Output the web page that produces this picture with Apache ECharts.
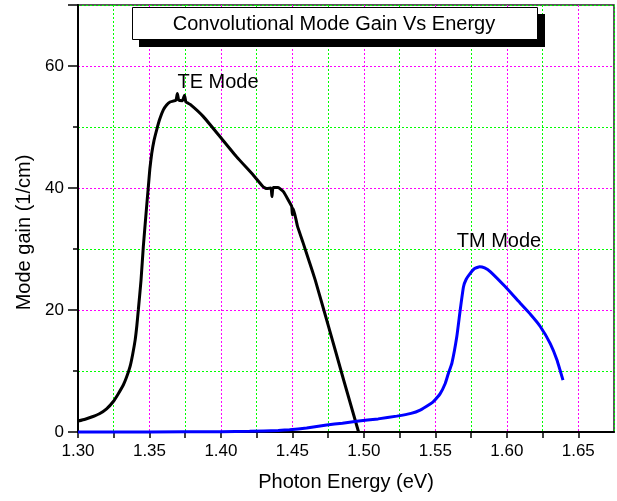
<!DOCTYPE html>
<html>
<head>
<meta charset="utf-8">
<script src="https://cdn.jsdelivr.net/npm/echarts@6/dist/echarts.min.js"></script>
<style>html,body{margin:0;padding:0;background:#fff}#c{width:617px;height:501px}</style>
</head>
<body>
<div id="c"></div>
<script>
var xTicks = ['1.30','1.35','1.40','1.45','1.50','1.55','1.60','1.65'];
var yTicks = ['0','20','40','60'];

var teEnergy = [1.300,1.305,1.310,1.315,1.320,1.3247,1.328,1.3317,1.334,1.3364,1.3383,1.340,1.3412,1.3422,1.3441,1.3457,1.3476,1.3492,1.3503,1.3516,1.3532,1.355,1.3572,1.3597,1.362,1.3644,1.3685,1.3695,1.3705,1.373,1.3745,1.3755,1.3785,1.3877,1.3994,1.411,1.4227,1.4295,1.432,1.435,1.4357,1.4365,1.440,1.4437,1.4472,1.4495,1.4500,1.4507,1.4535,1.4575,1.462,1.466,1.472,1.480,1.486,1.4963];
var teGain   = [1.8,2.1,2.5,3.0,3.8,5.0,6.2,7.7,9.0,10.7,12.8,15.1,17.5,20.0,24.9,30.4,35.8,40.2,43.2,45.7,47.8,49.5,51.3,52.8,53.6,54.1,54.4,55.5,54.4,54.3,55.2,54.1,53.7,51.7,48.4,45.1,42.1,40.2,39.9,40.0,38.6,40.1,40.1,39.4,38.0,37.0,35.6,36.6,33.8,31.0,27.8,24.9,20.0,13.4,8.4,0];

var tmEnergy = [1.30,1.35,1.40,1.42,1.44,1.448,1.46,1.474,1.485,1.495,1.51,1.523,1.533,1.5394,1.5464,1.5487,1.5534,1.557,1.559,1.5616,1.565,1.5674,1.5697,1.5715,1.5744,1.5775,1.581,1.5845,1.5884,1.599,1.6094,1.6165,1.6234,1.6304,1.6351,1.6393];
var tmGain   = [0.0,0.02,0.06,0.12,0.25,0.35,0.65,1.15,1.45,1.75,2.15,2.6,3.05,3.6,4.6,5.0,6.3,8.0,9.5,11.3,15.6,20.0,23.8,25.0,26.0,26.8,27.1,26.9,26.3,23.8,21.1,19.3,17.3,14.5,11.8,8.5];

var titleText = 'Convolutional Mode Gain Vs Energy';
var teLabel = 'TE Mode';
var tmLabel = 'TM Mode';

function pairs(xs, ys){ return xs.map(function(x,i){ return [x, ys[i]]; }); }

var FONT = '"Liberation Sans", Arial, sans-serif';
var gridColors = ['#ff00ff', '#00ff00'];
var chart = echarts.init(document.getElementById('c'), null, {renderer:'canvas'});
chart.setOption({
  animation: false,
  backgroundColor: '#fff',
  grid: {left: 78, right: 3, top: 5, bottom: 69, show: true, borderColor: '#222', borderWidth: 1.5, backgroundColor: 'transparent'},
  xAxis: {
    type: 'value', min: 1.30, max: 1.675, interval: 0.025,
    name: 'Photon Energy (eV)', nameLocation: 'middle', nameGap: 40,
    nameTextStyle: {fontFamily: FONT, fontSize: 20, color: '#000'},
    axisLine: {lineStyle: {color: '#000', width: 2}},
    axisTick: {show: true, length: 6, lineStyle: {color: '#000', width: 1.5}},
    axisLabel: {showMaxLabel: false, fontFamily: FONT, fontSize: 17, color: '#000', margin: 11,
      formatter: function(v){ var s = v.toFixed(2); var k = Math.round(v * 1000); return (k % 50 === 0 && xTicks.indexOf(s) >= 0) ? s : ''; }},
    splitLine: {show: true, lineStyle: {color: gridColors, type: [2,2], width: 1}}
  },
  yAxis: [{
    type: 'value', min: 0, max: 70, interval: 10,
    name: 'Mode gain (1/cm)', nameLocation: 'middle', nameGap: 44,
    nameTextStyle: {fontFamily: FONT, fontSize: 20, color: '#000', padding: [0, 28, 0, 0]},
    axisLine: {lineStyle: {color: '#000', width: 2}},
    axisTick: {show: true, length: 5, lineStyle: {color: '#000', width: 1.5}},
    axisLabel: {showMaxLabel: false, fontFamily: FONT, fontSize: 17, color: '#000', margin: 14,
      formatter: function(v){ var s = String(Math.round(v)); return yTicks.indexOf(s) >= 0 ? s : ''; }},
    splitLine: {show: true, lineStyle: {color: gridColors, type: [2,2], width: 1}}
  }, {
    type: 'value', min: 0, max: 70, interval: 20, position: 'left',
    axisLine: {show: false},
    axisTick: {show: true, length: 10, lineStyle: {color: '#000', width: 1.5}},
    axisLabel: {show: false},
    splitLine: {show: false}
  }],
  series: [
    {type: 'line', data: pairs(teEnergy, teGain), showSymbol: false, clip: false, smooth: 0.12,
     lineStyle: {color: '#000', width: 3}, z: 3},
    {type: 'line', data: pairs(tmEnergy, tmGain), showSymbol: false, clip: false, smooth: 0.12,
     lineStyle: {color: '#0000ff', width: 3}, z: 4}
  ],
  graphic: [
    {type: 'rect', left: 139, top: 14, shape: {width: 406, height: 33}, style: {fill: '#000'}, z: 10},
    {type: 'rect', left: 132, top: 7, shape: {width: 405, height: 32}, style: {fill: '#fff', stroke: '#000', lineWidth: 1}, z: 11},
    {type: 'text', x: 334, y: 24, style: {text: titleText, font: '20px ' + FONT, fill: '#000', textAlign: 'center', textVerticalAlign: 'middle'}, z: 12},
    {type: 'text', x: 218, y: 82, style: {text: teLabel, font: '20px ' + FONT, fill: '#000', textAlign: 'center', textVerticalAlign: 'middle'}, z: 12},
    {type: 'text', x: 499, y: 241, style: {text: tmLabel, font: '20px ' + FONT, fill: '#000', textAlign: 'center', textVerticalAlign: 'middle'}, z: 12}
  ]
});
</script>
</body>
</html>
